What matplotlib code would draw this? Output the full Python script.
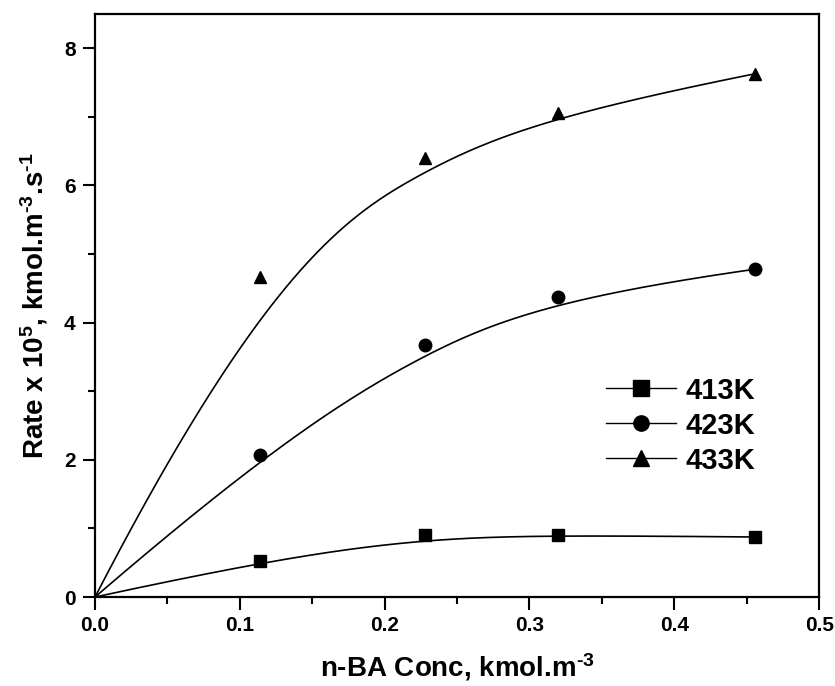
import numpy as np
import matplotlib
matplotlib.use("Agg")
import matplotlib.pyplot as plt
from matplotlib.ticker import MultipleLocator, FormatStrFormatter

# data (origin included, as in the original plot)
conc = [0.0, 0.114, 0.228, 0.320, 0.456]
rate_413 = [0.0, 0.52, 0.90, 0.90, 0.875]
rate_423 = [0.0, 2.07, 3.68, 4.37, 4.78]
rate_433 = [0.0, 4.66, 6.40, 7.05, 7.63]
labels = ["413K", "423K", "433K"]
markers = ["s", "o", "^"]


def bspline(cx, cy, k=3, n=300):
    # clamped B-spline using the data points as control points (Origin style smoothing)
    cx, cy = np.asarray(cx), np.asarray(cy)
    m = len(cx)
    knots = np.concatenate([np.zeros(k), np.linspace(0, 1, m - k + 1), np.ones(k)])
    t = np.linspace(0, 1, n)
    t[-1] -= 1e-10
    N = np.zeros((n, len(knots) - 1))
    for i in range(len(knots) - 1):
        N[:, i] = (t >= knots[i]) & (t < knots[i + 1])
    for d in range(1, k + 1):
        for i in range(len(knots) - 1 - d):
            a = knots[i + d] - knots[i]
            b = knots[i + d + 1] - knots[i + 1]
            left = (t - knots[i]) / a * N[:, i] if a > 0 else 0
            right = (knots[i + d + 1] - t) / b * N[:, i + 1] if b > 0 else 0
            N[:, i] = left + right
    B = N[:, :m]
    return B @ cx, B @ cy


plt.rcParams['font.family'] = ['Liberation Sans', 'DejaVu Sans']
plt.rcParams['font.weight'] = 'bold'
plt.rcParams['mathtext.fontset'] = 'custom'
plt.rcParams['mathtext.rm'] = 'Liberation Sans:bold'
plt.rcParams['mathtext.bf'] = 'Liberation Sans:bold'
plt.rcParams['mathtext.default'] = 'bf'

fig = plt.figure(figsize=(8.35, 6.86), dpi=100)
ax = fig.add_axes([0.1138, 0.1297, 0.8672, 0.8499])

for ys, lab, mk in zip([rate_413, rate_423, rate_433], labels, markers):
    sx, sy = bspline(conc, ys)
    ax.plot(sx, sy, color="black", lw=1.2)
    ax.plot(conc[1:], ys[1:], linestyle="none", marker=mk, color="black", markersize=9)
    # legend handle: line with marker in the middle
    ax.plot([], [], color="black", lw=1.0, marker=mk, markersize=11, label=lab)

ax.set_xlim(0, 0.5)
ax.set_ylim(0, 8.5)
ax.xaxis.set_major_locator(MultipleLocator(0.1))
ax.xaxis.set_minor_locator(MultipleLocator(0.05))
ax.yaxis.set_major_locator(MultipleLocator(2))
ax.yaxis.set_minor_locator(MultipleLocator(1))
ax.xaxis.set_major_formatter(FormatStrFormatter("%.1f"))
ax.yaxis.set_major_formatter(FormatStrFormatter("%d"))
ax.tick_params(which="major", direction="out", length=9, width=1.5, labelsize=15, pad=5)
ax.tick_params(which="minor", direction="out", length=5, width=1.5)
for s in ax.spines.values():
    s.set_linewidth(1.6)

ax.set_xlabel("n-BA Conc, kmol.m$^{\\text{-3}}$", fontsize=20, fontweight="bold", labelpad=11)
ax.set_ylabel("Rate x 10$^{\\text{5}}$, kmol.m$^{\\text{-3}}$.s$^{\\text{-1}}$",
              fontsize=20, fontweight="bold", labelpad=10)

leg = ax.legend(loc="upper left", bbox_to_anchor=(0.69, 0.398), frameon=False,
                prop={"size": 21, "weight": "bold"}, handlelength=2.4,
                labelspacing=0.24, handletextpad=0.3, borderaxespad=0)

fig.savefig("out.png", dpi=100)
